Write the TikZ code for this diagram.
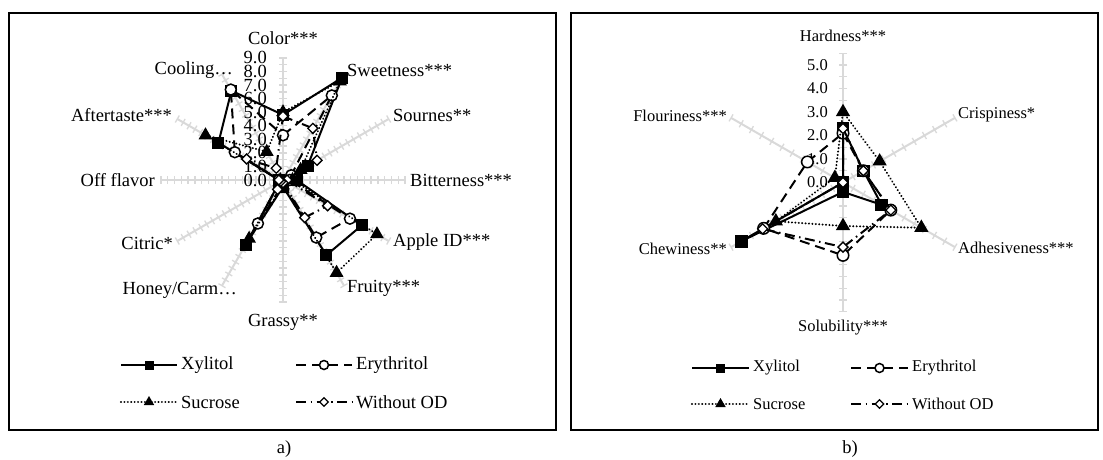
\documentclass[tikz,border=0pt]{standalone}
\usepackage{fontspec}
\setmainfont{Liberation Serif}
\usetikzlibrary{shapes.geometric}
\definecolor{axisgray}{HTML}{D9D9D9}

% place the data points of one series on a radar chart
% #1 prefix, #2/#3 centre, #4 px per unit, #5 angle step, #6 values
\newcommand\setpoints[6]{%
  \foreach \v [count=\i from 0] in {#6}
    \coordinate (#1\i) at ({#2+\v*#4*sin(\i*#5)},{#3-\v*#4*cos(\i*#5)});%
}

% one legend entry: #1 name, #2/#3 left end of the sample line,
% #4 line style, #5 marker style, #6 text, #7 sample length
\newcommand\legentry[7]{%
  \coordinate (#1a) at (#2,#3);
  \coordinate (#1b) at ({#2+#7},#3);
  \draw[#4] (#1a) -- (#1b);
  \node[#5] (#1m) at ({#2+#7/2},#3) {};
  \node[leglab] (#1t) at ({#2+#7+4},#3) {#6};%
}

\tikzset{
  frame/.style={draw=black, line width=1.5pt},
  axisline/.style={draw=axisgray, line width=2pt},
  tickline/.style={draw=axisgray, line width=1.3pt},
  xylline/.style={draw=black, line width=2pt, line join=round},
  eryline/.style={draw=black, line width=2pt, dash pattern=on 10pt off 6pt},
  sucline/.style={draw=black, line width=2.2pt, line cap=round, dash pattern=on 0.01pt off 3.4pt},
  wodline/.style={draw=black, line width=2pt, dash pattern=on 10pt off 4.5pt on 1.5pt off 4.5pt},
  sqm/.style={rectangle, fill=black, minimum size=#1, inner sep=0pt},
  sqm/.default=12pt,
  circm/.style={circle, draw=black, fill=white, line width=1.5pt, minimum size=#1, inner sep=0pt},
  circm/.default=11pt,
  trim/.style={regular polygon, regular polygon sides=3, fill=black, minimum size=#1, inner sep=0pt},
  trim/.default=16pt,
  diam/.style={diamond, draw=black, fill=white, line width=1.3pt, minimum size=#1, inner sep=0pt},
  diam/.default=10.5pt,
  labA/.style={font=\fontsize{18.5}{20}\selectfont, inner sep=0pt},
  labB/.style={font=\fontsize{16.5}{18}\selectfont, inner sep=0pt},
  leglab/.style={font=\fontsize{18.5}{20}\selectfont, inner sep=0pt, anchor=west},
}

\begin{document}
\begin{tikzpicture}[x=1pt, y=-1pt]
\useasboundingbox (0,0) rectangle (1103,460);
\fill[white] (0,0) rectangle (1103,460);

% panel frames and captions
\draw[frame] (9,13) rectangle (556,430);
\draw[frame] (571,13) rectangle (1098,430);
\node[labA] (capA) at (284,449) {a)};
\node[labA] (capB) at (850,449) {b)};

% ---------------- sensory profile (12 attributes) ----------------
\coordinate (cL) at (283,180);
\foreach \a in {0,30,...,330} {
  \coordinate (Lend\a) at ({283+122*sin(\a)},{180-122*cos(\a)});
  \draw[axisline] (cL) -- (Lend\a);
  \foreach \k in {1,...,18}
    \draw[tickline] ({283+\k*6.78*sin(\a)+4*cos(\a)},{180-\k*6.78*cos(\a)+4*sin(\a)}) -- ++({-8*cos(\a)},{-8*sin(\a)});
}
\foreach \k in {0,...,9}
  \node[labA, anchor=east] (tL\k) at (267,{180-\k*13.56}) {\k.0};

\node[labA] (aColor) at (283,38) {Color***};
\node[labA, anchor=west] (aSweet) at (347,70) {Sweetness***};
\node[labA, anchor=west] (aSour) at (393,115) {Sournes**};
\node[labA, anchor=west] (aBitter) at (410,180) {Bitterness***};
\node[labA, anchor=west] (aApple) at (393,242) {Apple ID***};
\node[labA, anchor=west] (aFruity) at (347,288) {Fruity***};
\node[labA] (aGrassy) at (283,322) {Grassy**};
\node[labA, anchor=east] (aHoney) at (237,290) {Honey/Carm…};
\node[labA, anchor=east] (aCitric) at (173,243) {Citric*};
\node[labA, anchor=east] (aOff) at (155,180) {Off flavor};
\node[labA, anchor=east] (aAfter) at (172,115) {Aftertaste***};
\node[labA, anchor=east] (aCool) at (233,70) {Cooling…};

\setpoints{LX}{283}{180}{13.56}{30}{4.8,8.7,2.1,1.0,6.7,6.4,0.5,5.5,0.3,0.3,5.5,7.6}
\setpoints{LE}{283}{180}{13.56}{30}{3.3,7.2,0.7,0.5,5.7,4.9,0.3,3.7,0.3,0.3,4.1,7.7}
\setpoints{LS}{283}{180}{13.56}{30}{5.0,8.4,1.5,0.7,8.0,7.9,0.4,5.0,0.3,0.2,6.6,2.4}
\setpoints{LW}{283}{180}{13.56}{30}{4.7,4.4,2.9,0.3,3.8,3.2,0.2,0.8,0.2,0.3,3.1,1.0}

\draw[xylline] (LX0) \foreach \i in {1,...,11} {-- (LX\i)} -- cycle;
\foreach \i in {0,...,11} \node[sqm] (mLX\i) at (LX\i) {};
\draw[eryline] (LE0) \foreach \i in {1,...,11} {-- (LE\i)} -- cycle;
\foreach \i in {0,...,11} \node[circm] (mLE\i) at (LE\i) {};
\draw[sucline] (LS0) \foreach \i in {1,...,11} {-- (LS\i)} -- cycle;
\foreach \i in {0,...,11} \node[trim] (mLS\i) at (LS\i) {};
\draw[wodline] (LW0) \foreach \i in {1,...,11} {-- (LW\i)} -- cycle;
\foreach \i in {0,...,11} \node[diam] (mLW\i) at (LW\i) {};

\legentry{lgLX}{121}{365}{xylline}{sqm=9pt}{Xylitol}{56}
\legentry{lgLE}{296}{365}{eryline}{circm=9pt}{Erythritol}{56}
\legentry{lgLS}{121}{402}{sucline}{trim=12pt}{Sucrose}{56}
\legentry{lgLW}{296}{402}{wodline}{diam=9pt}{Without OD}{56}

% ---------------- texture profile (6 attributes) ----------------
\coordinate (cR) at (843,182.5);
\foreach \a in {0,60,...,300} {
  \coordinate (Rend\a) at ({843+129.25*sin(\a)},{182.5-129.25*cos(\a)});
  \draw[axisline] (cR) -- (Rend\a);
  \foreach \k in {1,...,11}
    \draw[tickline] ({843+\k*11.75*sin(\a)+4*cos(\a)},{182.5-\k*11.75*cos(\a)+4*sin(\a)}) -- ++({-8*cos(\a)},{-8*sin(\a)});
}
\foreach \k in {0,...,5}
  \node[labB, anchor=east] (tR\k) at (828,{182.5-\k*23.5}) {\k.0};

\node[labB] (bHard) at (843,36) {Hardness***};
\node[labB, anchor=west] (bCrisp) at (958,115) {Crispiness*};
\node[labB, anchor=west] (bAdh) at (958,248) {Adhesiveness***};
\node[labB] (bSol) at (843,328) {Solubility***};
\node[labB, anchor=east] (bChew) at (727,249) {Chewiness**};
\node[labB, anchor=east] (bFlour) at (727,116) {Flouriness***};

\setpoints{RX}{843}{182.5}{23.5}{60}{2.3,1.0,1.9,0.4,5.0,0.0}
\setpoints{RE}{843}{182.5}{23.5}{60}{2.1,1.0,2.35,3.1,3.9,1.75}
\setpoints{RS}{843}{182.5}{23.5}{60}{3.0,1.8,3.85,1.85,3.3,0.4}
\setpoints{RW}{843}{182.5}{23.5}{60}{2.3,1.0,2.35,2.75,3.95,0.0}

\draw[xylline] (RX0) \foreach \i in {1,...,5} {-- (RX\i)} -- cycle;
\foreach \i in {0,...,5} \node[sqm=12.5pt] (mRX\i) at (RX\i) {};
\draw[eryline] (RE0) \foreach \i in {1,...,5} {-- (RE\i)} -- cycle;
\foreach \i in {0,...,5} \node[circm=11.5pt] (mRE\i) at (RE\i) {};
\draw[sucline] (RS0) \foreach \i in {1,...,5} {-- (RS\i)} -- cycle;
\foreach \i in {0,...,5} \node[trim=16.5pt] (mRS\i) at (RS\i) {};
\draw[wodline] (RW0) \foreach \i in {1,...,5} {-- (RW\i)} -- cycle;
\foreach \i in {0,...,5} \node[diam=10.5pt] (mRW\i) at (RW\i) {};

\begin{scope}[leglab/.append style={font=\fontsize{16.5}{18}\selectfont}]
\legentry{lgRX}{692}{368}{xylline}{sqm=9pt}{Xylitol}{57}
\legentry{lgRE}{851}{368}{eryline}{circm=9pt}{Erythritol}{57}
\legentry{lgRS}{692}{404}{sucline}{trim=12pt}{Sucrose}{57}
\legentry{lgRW}{851}{404}{wodline}{diam=9pt}{Without OD}{57}
\end{scope}
\end{tikzpicture}
\end{document}
